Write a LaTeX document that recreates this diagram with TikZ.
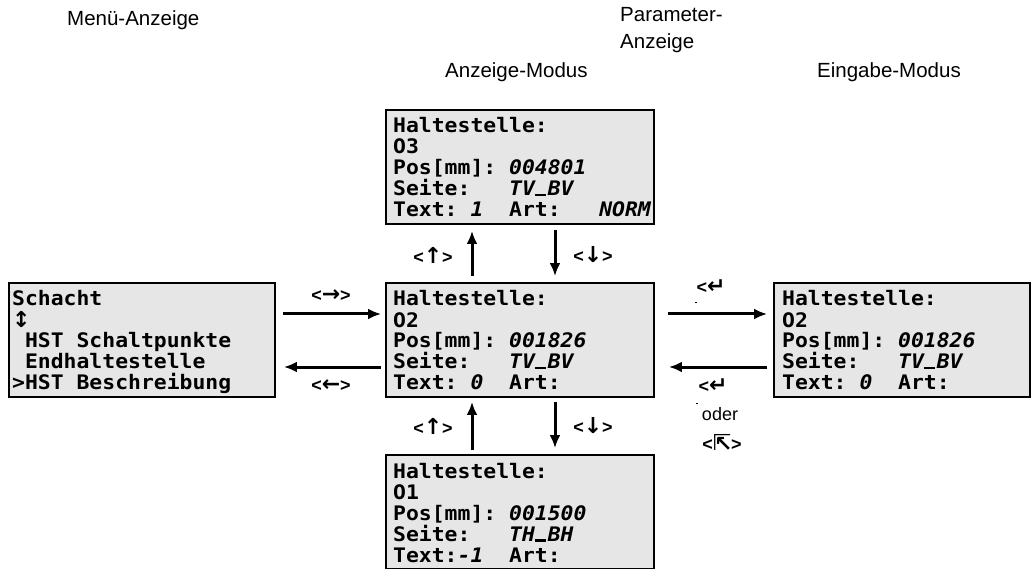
\documentclass[tikz,border=0pt]{standalone}
\usepackage{fontspec}
\usetikzlibrary{arrows.meta}
\setmainfont{Liberation Sans}
\newfontfamily\lcd[FakeStretch=1.07]{DejaVu Sans Mono}
\newfontfamily\symf{DejaVu Sans}
\definecolor{lcdgray}{HTML}{E6E6E6}
\newcommand{\vl}[1]{{\itshape #1}}
\newcommand{\us}{\makebox[12.88pt][l]{\rule[-0.5pt]{11pt}{2.2pt}}}
\newcommand{\ar}[1]{{\symf\bfseries\fontsize{22}{22}\selectfont #1}}
\tikzset{
  lcdbox/.style={draw=black, line width=1.8pt, fill=lcdgray, minimum height=114pt, inner sep=0pt},
  lcdtext/.style={anchor=base west, inner sep=0pt, font=\lcd\bfseries\fontsize{20}{21}\selectfont},
  hdr/.style={anchor=base west, inner sep=0pt, font=\fontsize{20.5}{24}\selectfont},
  keylab/.style={inner sep=0pt, font=\bfseries\fontsize{18}{20}\selectfont},
  arr/.style={line width=3pt, -{Latex[length=13pt,width=11pt]}},
}
\newcommand{\lines}[5]{\vtop{\baselineskip=21pt\lineskiplimit=-10pt\hbox{#1}\hbox{#2}\hbox{#3}\hbox{#4}\hbox{#5}}}
\begin{document}
\begin{tikzpicture}[x=1pt,y=-1pt]
\clip (0,0) rectangle (1031,569);
\fill[white] (0,0) rectangle (1031,569);
% headers
\node[hdr] (h1) at (67,26) {Menü-Anzeige};
\node[hdr] (h2) at (620,22) {Parameter-};
\node[hdr] (h3) at (620,49) {Anzeige};
\node[hdr] (h4) at (445,78) {Anzeige-Modus};
\node[hdr] (h5) at (817,78) {Eingabe-Modus};
% boxes
\node[lcdbox, minimum width=266pt] (L) at (142,340) {};
\node[lcdbox, minimum width=268pt] (C) at (520,340) {};
\node[lcdbox, minimum width=268pt] (T) at (520,167) {};
\node[lcdbox, minimum width=268pt] (B) at (520,512) {};
\node[lcdbox, minimum width=256pt] (R) at (902,340) {};
% box texts
\node[lcdtext] (Lt) at (12,306) {\lines{Schacht}{\raisebox{-1pt}{\symf\fontsize{22}{22}\selectfont ↕}}{~HST Schaltpunkte}{~Endhaltestelle}{>HST Beschreibung}};
\node[lcdtext] (Ct) at (393,306) {\lines{Haltestelle:}{O2}{Pos[mm]:~\vl{001826}}{Seite:~~~\vl{TV\us BV}}{Text:~\vl{0}~~Art:}};
\node[lcdtext] (Tt) at (393,133) {\lines{Haltestelle:}{O3}{Pos[mm]:~\vl{004801}}{Seite:~~~\vl{TV\us BV}}{Text:~\vl{1}~~Art:~~~\vl{NORM}}};
\node[lcdtext] (Bt) at (393,478) {\lines{Haltestelle:}{O1}{Pos[mm]:~\vl{001500}}{Seite:~~~\vl{TH\us BH}}{Text:\vl{-1}~~Art:}};
\node[lcdtext] (Rt) at (782,306) {\lines{Haltestelle:}{O2}{Pos[mm]:~\vl{001826}}{Seite:~~~\vl{TV\us BV}}{Text:~\vl{0}~~Art:}};
% arrows horizontal
\draw[arr] (L.east |- 0,314) ++(7,0) coordinate (a1s) -- ([xshift=-4pt]C.west |- a1s);
\draw[arr] (C.west |- 0,367) ++(-4,0) coordinate (a2s) -- ([xshift=8pt]L.east |- a2s);
\draw[arr] (C.east |- 0,314) ++(13,0) coordinate (a3s) -- ([xshift=-6pt]R.west |- a3s);
\draw[arr] (R.west |- 0,367) ++(-6,0) coordinate (a4s) -- ([xshift=14pt]C.east |- a4s);
% arrows vertical
\draw[arr, shorten <=6pt, shorten >=6pt] ([xshift=-48pt]C.north) -- ([xshift=-48pt]T.south);
\draw[arr, shorten <=5pt, shorten >=6pt] ([xshift=35pt]T.south) -- ([xshift=35pt]C.north);
\draw[arr, shorten <=4pt, shorten >=4pt] ([xshift=-48pt]B.north) -- ([xshift=-48pt]C.south);
\draw[arr, shorten <=4pt, shorten >=6pt] ([xshift=35pt]C.south) -- ([xshift=35pt]B.north);
% key labels
\node[keylab] (k1) at (331,296) {<\ar{→}>};
\node[keylab] (k2) at (331,386) {<\ar{←}>};
\node[keylab] (k3) at (433,255) {<\ar{↑}>};
\node[keylab] (k4) at (593,255) {<\ar{↓}>};
\node[keylab] (k5) at (433,426) {<\ar{↑}>};
\node[keylab] (k6) at (593,426) {<\ar{↓}>};
\node[keylab] (k7) at (711,287) {<\ar{↵}};
\node[keylab] (k8) at (713,386) {<\ar{↵}};
\node[inner sep=0pt, font=\fontsize{18}{20}\selectfont] (k9) at (720,414) {oder};
\node[keylab] (k10) at (722,442) {<\ar{⇱}>};
\fill (695,302.5) rectangle (697,303.5);
\fill (696,402.5) rectangle (698,403.5);
\end{tikzpicture}
\end{document}
